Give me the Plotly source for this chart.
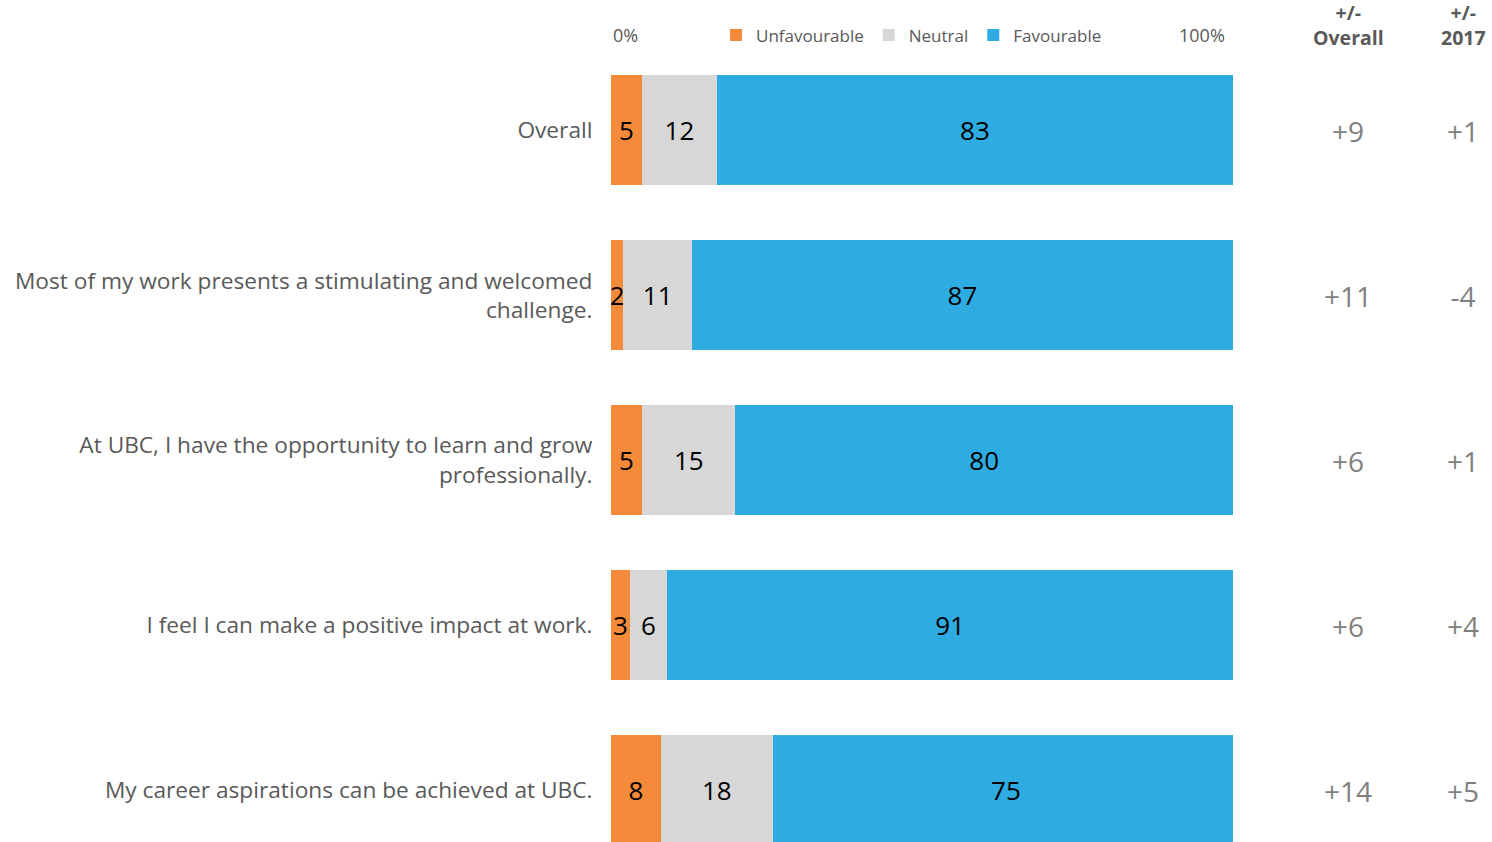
import plotly.graph_objects as go

# survey items (top to bottom)
questions = [
    "Overall",
    "Most of my work presents a stimulating and welcomed<br>challenge.",
    "At UBC, I have the opportunity to learn and grow<br>professionally.",
    "I feel I can make a positive impact at work.",
    "My career aspirations can be achieved at UBC.",
]
unfavourable = [5, 2, 5, 3, 8]
neutral = [12, 11, 15, 6, 18]
favourable = [83, 87, 80, 91, 75]

diff_overall = ["+9", "+11", "+6", "+6", "+14"]
diff_2017 = ["+1", "-4", "+1", "+4", "+5"]
diff_cols = ["Overall", "2017"]

COLORS = {"Unfavourable": "#F58B3A", "Neutral": "#D7D7D7", "Favourable": "#2EABE1"}
FONT = "Open Sans"
TEXT_GREY = "#595959"

W, H = 1492, 842
L, T = 611, 47.5
bar_right = 1233
plot_w = W - L
plot_h = H - T
row_px = 165

fig = go.Figure()
for name, vals in [("Unfavourable", unfavourable), ("Neutral", neutral), ("Favourable", favourable)]:
    fig.add_trace(go.Bar(
        name=name, y=questions, x=vals, orientation="h",
        marker=dict(color=COLORS[name], line=dict(width=0)),
        text=vals, textposition="inside", insidetextanchor="middle",
        textfont=dict(size=26, color="black", family=FONT),
        constraintext="none", cliponaxis=True,
        xaxis="x", yaxis="y",
    ))

# the two "+/-" columns on a second x axis
for col, vals in zip(diff_cols, [diff_overall, diff_2017]):
    fig.add_trace(go.Scatter(
        x=[col] * len(questions), y=questions, mode="text", text=vals,
        textfont=dict(size=28, color="#7F7F7F", family=FONT),
        showlegend=False, xaxis="x2", yaxis="y2", hoverinfo="skip",
    ))

dom_split = (bar_right - L) / plot_w
col0_px, col_step = 1348, 115
r0 = -(col0_px - bar_right) / col_step
r1 = r0 + (W - bar_right) / col_step

n_rows = plot_h / row_px
nudge = 5 / row_px  # the text glyphs sit a little high, push them down


def fig_y(px):
    # figure pixel row (from top) -> paper y
    return 1 + (T - px) / plot_h


annotations = [
    dict(text="0%", x=0, xref="x", xanchor="left", y=fig_y(34),
         yref="paper", yanchor="middle", showarrow=False,
         font=dict(size=18, color=TEXT_GREY)),
    dict(text="100%", x=100, xref="x", xanchor="right", y=fig_y(34),
         yref="paper", yanchor="middle", xshift=-6, showarrow=False,
         font=dict(size=18, color=TEXT_GREY)),
]
for i, col in enumerate(diff_cols):
    annotations.append(dict(text="<b>+/-<br>" + col + "</b>", x=i, xref="x2",
                            y=fig_y(24), yref="paper", yanchor="middle",
                            showarrow=False, font=dict(size=19.5, color=TEXT_GREY)))

fig.update_layout(
    barmode="stack", bargap=1 - 110 / row_px,
    width=W, height=H,
    margin=dict(l=L, r=0, t=T, b=0, pad=0, autoexpand=False),
    paper_bgcolor="white", plot_bgcolor="white",
    font=dict(family=FONT, color=TEXT_GREY),
    uniformtext=dict(mode="show", minsize=26),
    xaxis=dict(domain=[0, dom_split], range=[0, 100], showticklabels=False,
               showgrid=False, zeroline=False, showline=False),
    xaxis2=dict(domain=[dom_split, 1], type="category", categoryarray=diff_cols,
                range=[r0, r1], anchor="y2", showticklabels=False,
                showgrid=False, zeroline=False, showline=False, ticks=""),
    yaxis=dict(type="category", categoryarray=questions,
               range=[n_rows - 0.5, -0.5],
               tickfont=dict(size=22.7, color=TEXT_GREY, family=FONT),
               ticks="outside", ticklen=13, tickcolor="rgba(0,0,0,0)",
               showgrid=False, zeroline=False, showline=False),
    yaxis2=dict(type="category", categoryarray=questions, overlaying="y",
                anchor="x2", range=[n_rows - 0.5 - nudge, -0.5 - nudge],
                showticklabels=False, showgrid=False, zeroline=False, showline=False),
    legend=dict(orientation="h", traceorder="normal",
                x=(716 - L) / plot_w, xanchor="left",
                y=fig_y(35), yanchor="middle",
                font=dict(size=17, color=TEXT_GREY, family=FONT),
                bgcolor="rgba(0,0,0,0)", itemclick=False),
    annotations=annotations,
)

# drop the browser's default 8px body margin so the figure fills the window
fig.write_html("out.html", config={"displayModeBar": False},
               post_script="document.body.style.margin = '0';")
